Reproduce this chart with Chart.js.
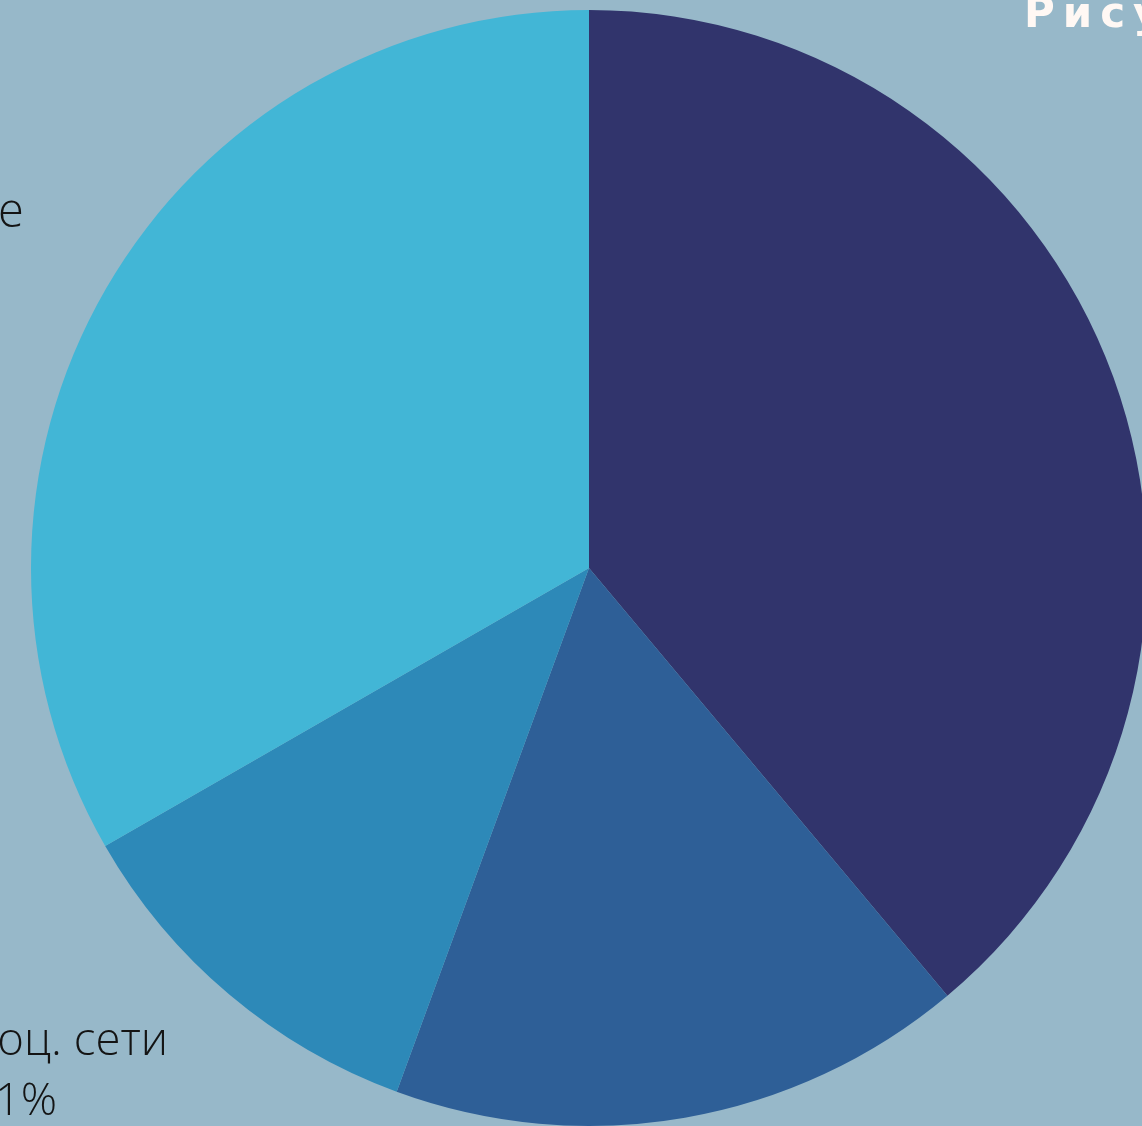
<!DOCTYPE html>
<html>
<head>
<meta charset="utf-8">
<script src="https://cdn.jsdelivr.net/npm/chart.js@4"></script>
<style>
html,body{margin:0;padding:0;width:1142px;height:1126px;overflow:hidden;background:#97b8c9;}
#wrap{position:absolute;left:0;top:0;width:1178px;height:1136px;}
</style>
</head>
<body>
<div id="wrap"><canvas id="c" width="1178" height="1136"></canvas></div>
<script>
// Data
const categories = ['Сегмент A', 'Сегмент B', 'соц. сети', 'Сегмент D'];
const shares = [38.9, 16.7, 11.1, 33.3];
const sliceColors = ['#31346c', '#2e5f97', '#2d89b8', '#42b6d6'];
const labelLines = ['е', 'соц. сети', '11%'];
const titleText = 'Рисунок';

const textPlugin = {
  id: 'texts',
  afterDraw(chart) {
    const ctx = chart.ctx;
    const ls = v => { if ('letterSpacing' in ctx) ctx.letterSpacing = v; };
    ctx.save();
    ctx.textBaseline = 'alphabetic';
    ctx.fillStyle = '#141414';
    ctx.font = '300 47px "Open Sans"';
    ctx.textAlign = 'left';
    ls('0px');
    ctx.fillText(labelLines[0], -2, 227);
    ctx.textAlign = 'right';
    ctx.font = '300 45.5px "Open Sans"';
    ctx.fillText(labelLines[1], 168, 1055);
    ctx.font = '300 45px "Open Sans"';
    ctx.fillText(labelLines[2], 57, 1115);
    ctx.fillStyle = '#fff8f4';
    ctx.font = '700 42px "DejaVu Sans"';
    ctx.textAlign = 'left';
    ls('8px');
    ctx.fillText(titleText, 1024, 27);
    ctx.restore();
  }
};

new Chart(document.getElementById('c'), {
  type: 'pie',
  data: {
    labels: categories,
    datasets: [{
      data: shares,
      backgroundColor: sliceColors,
      borderWidth: 0,
      hoverOffset: 0,
      offset: 0
    }]
  },
  options: {
    responsive: false,
    devicePixelRatio: 1,
    animation: false,
    radius: 558,
    layout: { padding: { left: 31, right: 31, top: 10, bottom: 10 } },
    plugins: {
      legend: { display: false },
      tooltip: { enabled: false },
      title: { display: false }
    }
  },
  plugins: [textPlugin]
});
</script>
</body>
</html>
